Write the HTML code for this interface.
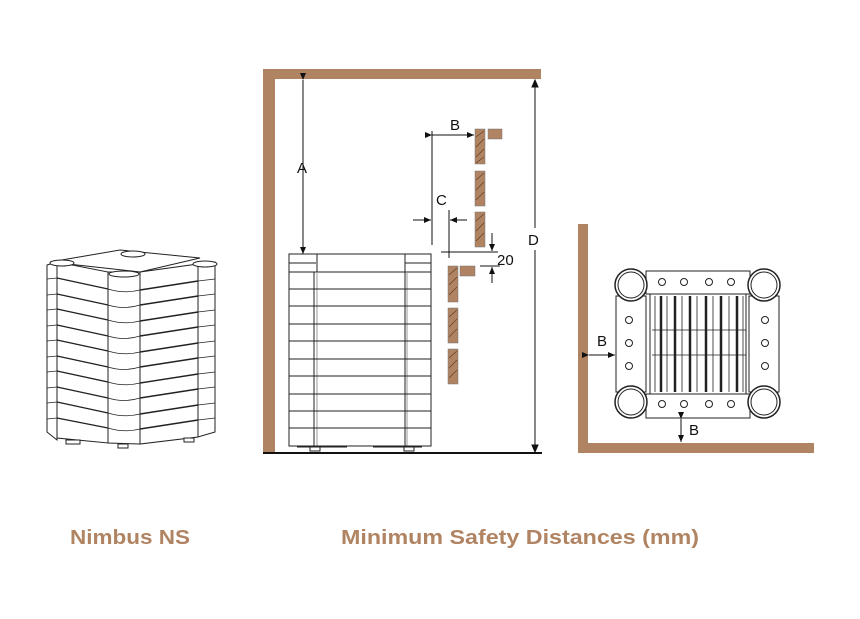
<!DOCTYPE html>
<html><head><meta charset="utf-8"><style>
html,body{margin:0;padding:0;background:#fff;}
svg{display:block;}
text{font-family:"Liberation Sans",sans-serif;}
</style></head><body>
<svg width="860" height="619" viewBox="0 0 860 619" xmlns="http://www.w3.org/2000/svg">
<defs>
<marker id="ar" markerWidth="8" markerHeight="8" refX="7" refY="4" orient="auto" markerUnits="userSpaceOnUse"><path d="M0,1 L7,4 L0,7 Z" fill="#111"/></marker>
</defs>

<!-- LEFT HEATER -->
<g stroke="#222" stroke-width="1" fill="#fff">
  <path d="M47,265 L57,262 L57,440 L47,432 Z"/>
  <path d="M57,262 L108,272 L108,443 L57,438 Z"/>
  <path d="M108,272 L140,272 L140,444 L108,443 Z"/>
  <path d="M140,272 L198,264 L198,437 L140,444 Z"/>
  <path d="M198,264 L215,262 L215,432 L198,437 Z"/>
  <path d="M50,262 L120,250 L200,258 L140,272 Z"/>
  <ellipse cx="133" cy="254" rx="12" ry="3"/>
  <ellipse cx="62" cy="263" rx="12" ry="3"/>
  <ellipse cx="205" cy="264" rx="12" ry="3"/>
  <ellipse cx="124" cy="274" rx="15" ry="3"/>
  <g fill="none" stroke-width="1.4">
    <path d="M57,278 L108,289 M57,294 L108,305 M57,309 L108,320 M57,325 L108,336 M57,340 L108,351 M57,356 L108,367 M57,371 L108,382 M57,387 L108,398 M57,402 L108,413 M57,418 L108,428"/>
    <path d="M140,290 L198,281 M140,305 L198,296 M140,321 L198,312 M140,336 L198,327 M140,352 L198,343 M140,367 L198,358 M140,383 L198,374 M140,398 L198,389 M140,414 L198,405 M140,429 L198,420"/>
  </g>
  <g fill="none" stroke-width="0.8">
    <path d="M108,289 Q124,294 140,290 M108,305 Q124,310 140,305 M108,320 Q124,325 140,321 M108,336 Q124,341 140,336 M108,351 Q124,356 140,352 M108,367 Q124,372 140,367 M108,382 Q124,387 140,383 M108,398 Q124,403 140,398 M108,413 Q124,418 140,414 M108,428 Q124,433 140,429"/>
    <path d="M47,279 L57,278 M47,295 L57,294 M47,310 L57,309 M47,326 L57,325 M47,341 L57,340 M47,357 L57,356 M47,372 L57,371 M47,388 L57,387 M47,403 L57,402 M47,419 L57,418"/>
    <path d="M198,281 L215,279 M198,296 L215,294 M198,312 L215,310 M198,327 L215,325 M198,343 L215,341 M198,358 L215,356 M198,374 L215,372 M198,389 L215,387 M198,405 L215,403 M198,420 L215,418"/>
  </g>
  <rect x="66" y="440" width="14" height="4"/><rect x="118" y="444" width="10" height="4"/><rect x="184" y="438" width="10" height="4"/>
</g>

<!-- MIDDLE WALL -->
<rect x="263" y="69" width="12" height="384" fill="#b08462"/>
<rect x="263" y="69" width="278" height="10" fill="#b08462"/>
<line x1="263" y1="453" x2="542" y2="453" stroke="#111" stroke-width="2"/>

<!-- middle heater -->
<g stroke="#222" stroke-width="1" fill="#fff">
  <rect x="289" y="254" width="142" height="192"/>
  <path d="M289,263 L316,263 M405,263 L431,263" fill="none"/>
  <rect x="317" y="254" width="88" height="18"/>
  <line x1="289" y1="272" x2="431" y2="272"/>
  <line x1="314" y1="272" x2="314" y2="446"/><line x1="317" y1="272" x2="317" y2="446" stroke="#999"/>
  <line x1="405" y1="272" x2="405" y2="446"/><line x1="407" y1="272" x2="407" y2="446" stroke="#999"/>
  <path d="M289,289 H431 M289,306 H431 M289,324 H431 M289,341 H431 M289,359 H431 M289,376 H431 M289,394 H431 M289,411 H431 M289,428 H431" fill="none"/>
  <rect x="310" y="446" width="10" height="5"/><rect x="404" y="446" width="10" height="5"/>
  <line x1="297" y1="447" x2="347" y2="447"/><line x1="373" y1="447" x2="422" y2="447"/>
</g>

<!-- dims middle -->
<g stroke="#111" stroke-width="1" fill="none">
  <line x1="303" y1="80" x2="303" y2="254" marker-start="url(#ar)" marker-end="url(#ar)"/>
  <line x1="535" y1="80" x2="535" y2="228"/><line x1="535" y1="250" x2="535" y2="452" />
  <path d="M535,80 l-3,7 h6 z M535,452 l-3,-7 h6 z" fill="#111"/>
  <line x1="432" y1="131" x2="432" y2="245"/>
  <line x1="432" y1="135" x2="474" y2="135" marker-start="url(#ar)" marker-end="url(#ar)"/>
  <line x1="413" y1="220" x2="431" y2="220" marker-end="url(#ar)"/>
  <line x1="449" y1="210" x2="449" y2="258"/>
  <line x1="467" y1="220" x2="450" y2="220" marker-end="url(#ar)"/>
  <line x1="441" y1="252" x2="498" y2="252"/>
  <line x1="492" y1="233" x2="492" y2="251" marker-end="url(#ar)"/>
  <line x1="480" y1="266" x2="500" y2="266"/>
  <line x1="492" y1="283" x2="492" y2="267" marker-end="url(#ar)"/>
</g>
<g font-size="15" fill="#111">
  <text x="450" y="130">B</text>
  <text x="297" y="173">A</text>
  <text x="436" y="205">C</text>
  <text x="528" y="245">D</text>
  <text x="497" y="265">20</text>
</g>
<!-- wood -->
<g fill="#b08462" stroke="#777" stroke-width="0.5">
  <rect x="475" y="129" width="10" height="35"/><rect x="488" y="129" width="14" height="10"/>
  <rect x="475" y="171" width="10" height="35"/><rect x="475" y="212" width="10" height="35"/>
  <rect x="448" y="266" width="10" height="36"/><rect x="460" y="266" width="15" height="10"/>
  <rect x="448" y="308" width="10" height="35"/><rect x="448" y="349" width="10" height="35"/>
</g>
<g stroke="#5a3a22" stroke-width="0.6" fill="none">
  <path d="M476,137 L484,131 M476,147 L484,139 M476,157 L484,149 M476,163 L484,157"/>
  <path d="M476,180 L484,173 M476,190 L484,182 M476,200 L484,192"/>
  <path d="M476,221 L484,214 M476,231 L484,223 M476,241 L484,233"/>
  <path d="M449,275 L457,268 M449,285 L457,277 M449,295 L457,287"/>
  <path d="M449,317 L457,310 M449,327 L457,319 M449,337 L457,329"/>
  <path d="M449,358 L457,351 M449,368 L457,360 M449,378 L457,370"/>
</g>

<!-- RIGHT -->
<rect x="578" y="224" width="10" height="229" fill="#b08462"/>
<rect x="578" y="443" width="236" height="10" fill="#b08462"/>
<g stroke="#222" stroke-width="1" fill="#fff">
  <rect x="616" y="296" width="30" height="96"/><rect x="749" y="296" width="30" height="96"/>
  <rect x="646" y="271" width="104" height="23"/><rect x="646" y="394" width="104" height="24"/>
  <rect x="650" y="294" width="96" height="100" fill="#fff"/>
  <g stroke-width="2.5"><path d="M661,296 V392 M675,296 V392 M690,296 V392 M706,296 V392 M721,296 V392 M737,296 V392"/></g>
  <g stroke-width="0.8" fill="none"><path d="M655,296 V392 M667,296 V392 M682,296 V392 M697,296 V392 M713,296 V392 M729,296 V392 M743,296 V392 M652,330 H746 M652,355 H746"/></g>
  <g stroke-width="1.5"><circle cx="631" cy="285" r="16"/><circle cx="764" cy="285" r="16"/><circle cx="631" cy="402" r="16"/><circle cx="764" cy="402" r="16"/></g>
  <circle cx="631" cy="285" r="13"/><circle cx="764" cy="285" r="13"/><circle cx="631" cy="402" r="13"/><circle cx="764" cy="402" r="13"/>
  <g stroke-width="1"><circle cx="662" cy="282" r="3.5"/><circle cx="684" cy="282" r="3.5"/><circle cx="709" cy="282" r="3.5"/><circle cx="731" cy="282" r="3.5"/>
  <circle cx="662" cy="404" r="3.5"/><circle cx="684" cy="404" r="3.5"/><circle cx="709" cy="404" r="3.5"/><circle cx="731" cy="404" r="3.5"/>
  <circle cx="629" cy="320" r="3.5"/><circle cx="629" cy="343" r="3.5"/><circle cx="629" cy="366" r="3.5"/>
  <circle cx="765" cy="320" r="3.5"/><circle cx="765" cy="343" r="3.5"/><circle cx="765" cy="366" r="3.5"/></g>
</g>
<g stroke="#111" stroke-width="1">
  <line x1="589" y1="355" x2="615" y2="355" marker-start="url(#ar)" marker-end="url(#ar)"/>
  <line x1="681" y1="419" x2="681" y2="442" marker-start="url(#ar)" marker-end="url(#ar)"/>
</g>
<g font-size="15" fill="#111"><text x="597" y="346">B</text><text x="689" y="435">B</text></g>

<!-- captions -->
<g font-size="20" font-weight="bold" fill="#b08462">
  <text x="70" y="544" textLength="120" lengthAdjust="spacingAndGlyphs">Nimbus NS</text>
  <text x="341" y="544" textLength="358" lengthAdjust="spacingAndGlyphs">Minimum Safety Distances (mm)</text>
</g>
</svg>
</body></html>
